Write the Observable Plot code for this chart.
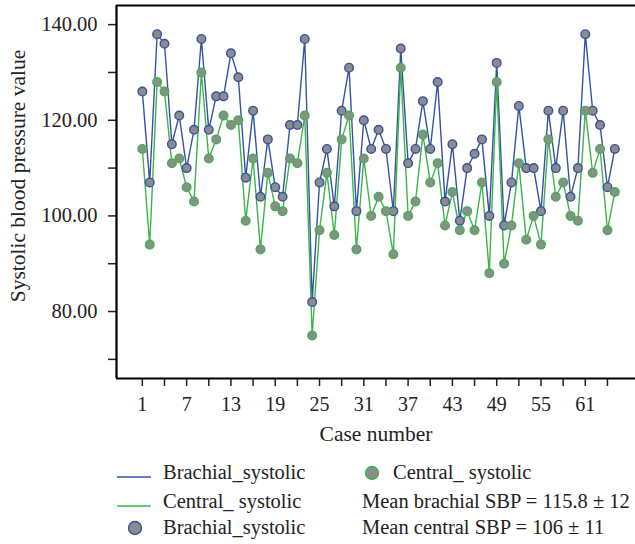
<!DOCTYPE html>
<html>
<head>
<meta charset="utf-8">
<script src="https://cdn.jsdelivr.net/npm/d3@7"></script>
<script src="https://cdn.jsdelivr.net/npm/@observablehq/plot@0.6"></script>
<style>
  body { margin: 0; background: #fff; }
  #wrap { position: relative; width: 635px; height: 544px; overflow: hidden; font-family: "Liberation Serif", serif; color: #222; }
  #legend { position: absolute; left: 0; top: 450px; width: 635px; height: 94px; }
  .lg { position: absolute; font-size: 20.5px; white-space: nowrap; line-height: 1; }
</style>
</head>
<body>
<div id="wrap">
  <div id="chart"></div>
  <div id="legend"></div>
</div>
<script>
const cases = d3.range(1, 66);
const brachial = [126,107,138,136,115,121,110,118,137,118,
  125,125,134,129,108,122,104,116,106,104,
  119,119,137,82,107,114,102,122,131,101,
  120,114,118,114,101,135,111,114,124,114,
  128,103,115,99,110,113,116,100,132,98,
  107,123,110,110,101,122,110,122,104,110,
  138,122,119,106,114];
const central = [114,94,128,126,111,112,106,103,130,112,
  116,121,119,120,99,112,93,109,102,101,
  112,111,121,75,97,109,96,116,121,93,
  112,100,104,101,92,131,100,103,117,107,
  111,98,105,97,101,97,107,88,128,90,
  98,111,95,100,94,116,104,107,100,99,
  122,109,114,97,105];
const xTicks = [1,4,7,10,13,16,19,22,25,28,31,34,37,40,43,46,49,52,55,58,61,64];
const xTickLabels = [1,7,13,19,25,31,37,43,49,55,61];
const yTickLabels = [80,100,120,140];
const yMinorTicks = [70,90,110,130];
const xDomain = [-2.5, 67.8];
const yDomain = [66, 144];
const seriesNames = ["Brachial_systolic", "Central_ systolic"];
const statLines = ["Mean brachial SBP = 115.8 ± 12", "Mean central SBP = 106 ± 11"];
const yTitle = "Systolic blood pressure value";
const xTitle = "Case number";

const blue = "#3552a3";
const green = "#3cb44b";
const gray = "#8c8c8c";
const font = "Liberation Serif";

const bData = cases.map((c, i) => ({c, v: brachial[i]}));
const cData = cases.map((c, i) => ({c, v: central[i]}));

const plot = Plot.plot({
  width: 635,
  height: 450,
  marginLeft: 116,
  marginRight: 0,
  marginTop: 5,
  marginBottom: 72,
  style: {fontFamily: font, fontSize: "20px", color: "#222", background: "transparent"},
  x: {domain: xDomain},
  y: {domain: yDomain},
  marks: [
    Plot.axisX({ticks: xTicks, tickSize: 8, tickFormat: () => "", label: null, strokeWidth: 1.5}),
    Plot.text(xTickLabels, {x: d => d, frameAnchor: "bottom", dy: 26, text: d => String(d), fontSize: 20, fill: "#222", lineAnchor: "middle"}),
    Plot.axisY({ticks: [...yTickLabels, ...yMinorTicks], tickSize: 8, tickFormat: () => "", label: null, strokeWidth: 1.5}),
    Plot.text(yTickLabels, {y: d => d, frameAnchor: "left", dx: -19, textAnchor: "end", text: d => d.toFixed(2), fontSize: 20.5, fill: "#222"}),
    Plot.ruleX([xDomain[0]], {stroke: "#000", strokeWidth: 2.2}),
    Plot.ruleY([yDomain[0]], {stroke: "#000", strokeWidth: 2.2}),
    Plot.ruleY([yDomain[1]], {stroke: "#000", strokeWidth: 2.2}),
    Plot.line(bData, {x: "c", y: "v", stroke: blue, strokeWidth: 1.4}),
    Plot.line(cData, {x: "c", y: "v", stroke: green, strokeWidth: 1.4}),
    Plot.dot(bData, {x: "c", y: "v", r: 4.3, fill: gray, stroke: blue, strokeWidth: 1.4}),
    Plot.dot(cData, {x: "c", y: "v", r: 4.3, fill: gray, stroke: green, strokeWidth: 1.4}),
    Plot.text([yTitle], {frameAnchor: "left", rotate: -90, textAnchor: "middle", dx: -98, dy: -16, fontSize: 21.5, fill: "#222", text: d => d}),
    Plot.text([xTitle], {frameAnchor: "bottom", dy: 56, textAnchor: "middle", lineAnchor: "middle", fontSize: 21.5, fill: "#222", text: d => d})
  ]
});
document.getElementById("chart").appendChild(plot);

// legend
const lg = document.getElementById("legend");
function sym(html, left, top, w, h) {
  const d = document.createElement("div");
  d.style.position = "absolute"; d.style.left = left + "px"; d.style.top = top + "px";
  d.innerHTML = `<svg width="${w}" height="${h}">${html}</svg>`;
  lg.appendChild(d);
}
function label(t, left, cy) {
  const s = document.createElement("div");
  s.className = "lg"; s.textContent = t;
  s.style.left = left + "px"; s.style.top = (cy - 11) + "px";
  lg.appendChild(s);
}
const rows = [23, 52, 78];
sym(`<line x1="0" y1="5" x2="34" y2="5" stroke="${blue}" stroke-width="1.4"/>`, 117, rows[0] - 5, 36, 10);
label(seriesNames[0], 163, rows[0]);
sym(`<line x1="0" y1="5" x2="34" y2="5" stroke="${green}" stroke-width="1.4"/>`, 117, rows[1] - 5, 36, 10);
label(seriesNames[1], 163, rows[1]);
sym(`<circle cx="9" cy="9" r="6.5" fill="${gray}" stroke="${blue}" stroke-width="1.4"/>`, 126, rows[2] - 9, 18, 18);
label(seriesNames[0], 163, rows[2]);
sym(`<circle cx="9" cy="9" r="6.5" fill="${gray}" stroke="${green}" stroke-width="1.4"/>`, 363, rows[0] - 9, 18, 18);
label(seriesNames[1], 393, rows[0]);
label(statLines[0], 362, rows[1]);
label(statLines[1], 362, rows[2]);
</script>
</body>
</html>
